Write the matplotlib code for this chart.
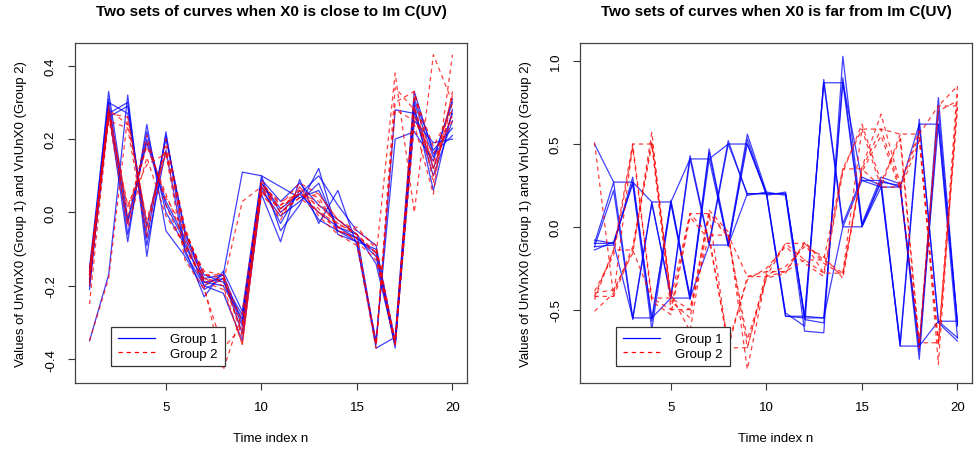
import matplotlib
matplotlib.use("Agg")
import matplotlib.pyplot as plt
from matplotlib.lines import Line2D

plt.rcParams['font.family'] = ['Liberation Sans', 'DejaVu Sans']

t = list(range(1, 21))

# left panel: X0 close to Im C(UV)
close_g1 = [
    [-0.17, 0.29, -0.03, 0.20, 0.03, -0.07, -0.18, -0.17, -0.30, 0.08, 0.01, 0.05, 0.00, -0.04, -0.07, -0.12, -0.36, 0.28, 0.12, 0.27],
    [-0.15, 0.31, -0.06, 0.22, 0.00, -0.09, -0.19, -0.18, -0.33, 0.07, -0.03, 0.06, -0.02, -0.05, -0.08, -0.10, -0.35, 0.30, 0.15, 0.30],
    [-0.20, 0.27, 0.30, -0.07, 0.21, -0.06, -0.17, -0.19, -0.28, 0.09, 0.03, 0.08, 0.02, -0.02, -0.06, -0.36, 0.28, 0.27, 0.10, 0.25],
    [-0.35, -0.17, 0.32, -0.12, 0.22, -0.10, -0.23, -0.16, -0.27, 0.10, -0.05, 0.02, 0.12, -0.06, -0.08, -0.37, -0.34, 0.33, 0.16, 0.21],
    [-0.18, 0.33, -0.02, 0.19, 0.02, -0.08, -0.20, -0.17, 0.11, 0.10, 0.07, 0.04, 0.06, -0.04, -0.06, -0.14, -0.36, 0.25, 0.19, 0.20],
    [-0.19, 0.26, 0.29, -0.09, 0.17, -0.11, -0.20, -0.22, -0.35, 0.05, -0.08, 0.09, -0.03, 0.06, -0.09, -0.35, 0.20, 0.22, 0.14, 0.31],
    [-0.16, 0.28, -0.08, 0.24, -0.05, -0.12, -0.21, -0.18, -0.31, 0.06, -0.01, 0.03, 0.08, -0.05, -0.07, -0.11, -0.37, 0.29, 0.06, 0.28],
    [-0.21, 0.30, 0.27, -0.04, 0.20, -0.05, -0.19, -0.20, -0.29, 0.08, 0.00, 0.05, 0.10, 0.02, -0.05, -0.09, -0.36, 0.31, 0.17, 0.23],
]
close_g2 = [
    [-0.17, 0.27, 0.26, -0.05, 0.18, -0.05, -0.17, -0.18, -0.33, 0.07, 0.01, 0.06, 0.00, -0.03, -0.06, -0.11, -0.36, 0.29, 0.12, 0.27],
    [-0.19, 0.28, 0.01, 0.18, 0.05, -0.08, -0.19, -0.21, -0.36, 0.06, -0.02, 0.07, 0.01, -0.05, -0.07, -0.36, 0.34, 0.28, 0.10, 0.30],
    [-0.35, -0.18, 0.26, -0.03, 0.17, -0.06, -0.16, -0.17, -0.30, 0.08, 0.02, 0.05, 0.03, -0.04, -0.08, -0.13, -0.36, 0.26, 0.14, 0.25],
    [-0.25, 0.26, -0.04, 0.15, -0.01, -0.09, -0.20, -0.43, -0.27, 0.09, 0.00, 0.04, 0.05, -0.02, -0.05, -0.09, -0.35, 0.32, 0.18, 0.28],
    [-0.18, 0.29, -0.01, 0.21, 0.02, -0.10, -0.18, -0.19, 0.03, 0.07, 0.03, 0.05, 0.02, -0.03, -0.06, -0.12, 0.38, 0.00, 0.43, 0.30],
    [-0.16, 0.25, 0.23, -0.07, 0.20, -0.04, -0.19, -0.18, -0.34, 0.05, -0.01, 0.07, -0.01, -0.06, -0.09, -0.37, 0.30, 0.33, 0.08, 0.33],
    [-0.20, 0.27, 0.02, 0.13, 0.16, -0.13, -0.21, -0.37, -0.31, 0.06, 0.01, 0.06, 0.04, -0.04, -0.04, -0.10, -0.36, 0.24, 0.05, 0.43],
    [-0.17, 0.28, 0.24, -0.02, 0.16, -0.07, -0.18, -0.20, -0.36, 0.07, 0.00, 0.04, 0.00, -0.05, -0.07, -0.36, 0.28, 0.25, 0.16, 0.26],
    [-0.15, 0.27, -0.03, 0.19, 0.04, -0.05, -0.17, -0.17, -0.32, 0.08, 0.02, 0.08, 0.05, -0.02, -0.06, -0.11, -0.35, 0.33, 0.12, 0.32],
]

# right panel: X0 far from Im C(UV)
far_g1 = [
    [-0.10, 0.27, -0.55, 0.15, -0.43, 0.41, -0.11, 0.50, 0.20, 0.20, -0.54, -0.55, 0.87, 0.00, 0.28, 0.24, -0.72, 0.62, -0.57, -0.67],
    [-0.12, 0.22, -0.56, 0.14, -0.42, 0.43, -0.10, 0.52, 0.19, 0.21, -0.52, -0.60, 0.89, 0.02, 0.30, 0.25, -0.70, 0.65, -0.58, -0.69],
    [-0.08, -0.10, 0.27, -0.55, 0.15, -0.43, 0.41, -0.11, 0.50, 0.20, 0.20, -0.54, -0.55, 0.87, 0.00, 0.28, 0.24, -0.72, 0.62, -0.57],
    [-0.12, -0.11, 0.30, -0.57, 0.16, -0.42, 0.47, -0.10, 0.56, 0.21, 0.19, -0.63, -0.64, 1.03, 0.02, 0.30, 0.26, -0.75, 0.78, -0.59],
    [-0.14, -0.09, 0.26, -0.62, 0.14, -0.44, 0.45, -0.12, 0.53, 0.19, 0.21, -0.56, -0.58, 0.90, 0.01, 0.27, 0.25, -0.80, 0.70, -0.60],
    [-0.10, -0.10, -0.55, -0.55, -0.43, -0.43, -0.11, -0.11, 0.20, 0.20, -0.54, -0.54, 0.87, 0.87, 0.28, 0.28, -0.72, -0.72, -0.57, -0.57],
    [0.50, 0.27, 0.27, 0.15, 0.15, 0.41, 0.41, 0.50, 0.50, 0.20, 0.20, -0.55, -0.55, 0.00, 0.00, 0.24, 0.24, 0.62, 0.62, -0.67],
]
far_g2 = [
    [-0.42, -0.14, 0.50, -0.43, -0.50, 0.08, -0.05, -0.73, -0.30, -0.27, -0.10, -0.20, -0.28, 0.35, 0.59, 0.24, 0.56, -0.70, 0.73, 0.85],
    [-0.39, -0.17, 0.48, -0.45, -0.53, 0.06, -0.08, -0.70, -0.32, -0.25, -0.12, -0.22, -0.30, 0.33, 0.62, 0.27, 0.53, -0.73, 0.70, 0.76],
    [0.51, -0.42, -0.14, 0.50, -0.43, -0.50, 0.08, -0.05, -0.73, -0.30, -0.27, -0.10, -0.20, -0.28, 0.35, 0.59, 0.24, 0.56, -0.70, 0.73],
    [-0.40, -0.38, -0.16, 0.57, -0.45, -0.55, 0.10, -0.03, -0.86, -0.29, -0.24, -0.12, -0.18, -0.31, 0.36, 0.68, 0.26, 0.58, -0.83, 0.80],
    [-0.51, -0.40, -0.12, 0.52, -0.41, -0.63, 0.07, -0.06, -0.68, -0.31, -0.28, -0.09, -0.22, -0.29, 0.33, 0.55, 0.22, 0.52, -0.72, 0.72],
    [-0.42, -0.42, 0.50, 0.50, -0.50, -0.50, -0.05, -0.05, -0.30, -0.30, -0.10, -0.10, -0.28, -0.28, 0.59, 0.59, 0.56, 0.56, 0.73, 0.73],
    [-0.44, -0.14, -0.14, -0.43, -0.43, 0.08, 0.08, -0.73, -0.73, -0.27, -0.27, -0.20, -0.20, 0.35, 0.35, 0.24, 0.24, -0.70, -0.70, 0.85],
]

panels = [
    ("Two sets of curves when X0 is close to Im C(UV)", close_g1, close_g2,
     (-0.465, 0.462), [-0.4, -0.2, 0.0, 0.2, 0.4]),
    ("Two sets of curves when X0 is far from Im C(UV)", far_g1, far_g2,
     (-0.943, 1.11), [-0.5, 0.0, 0.5, 1.0]),
]
ylab = "Values of UnVnX0 (Group 1) and VnUnX0 (Group 2)"

fig = plt.figure(figsize=(9.78, 4.6), dpi=100)
lefts = [75 / 978, 580 / 978]

for k, (title, g1, g2, ylim, yticks) in enumerate(panels):
    ax = fig.add_axes([lefts[k], 76 / 460, 392 / 978, 340 / 460])
    for c in g1:
        ax.plot(t, c, color='#0000FF', lw=0.9, alpha=0.75)
    for c in g2:
        ax.plot(t, c, color='#FF0000', lw=0.9, alpha=0.75, ls=(0, (3.5, 3)))
    ax.set_xlim(0.24, 20.76)
    ax.set_ylim(*ylim)
    ax.set_xticks([5, 10, 15, 20])
    ax.set_yticks(yticks)
    ax.set_yticklabels([f"{v:.1f}" for v in yticks], rotation=90, va='center')
    ax.tick_params(direction='out', length=5, width=0.8, labelsize=9.5, colors='#333333',
                   labelcolor='black', pad=8)
    for s in ax.spines.values():
        s.set_color('#444444')
        s.set_linewidth(0.9)
    ax.set_title(title, fontsize=11, fontweight='bold', pad=20)
    ax.set_xlabel("Time index n", fontsize=9.5, labelpad=14)
    ax.set_ylabel(ylab, fontsize=9.5, labelpad=13)
    handles = [Line2D([0], [0], color='#0000FF', lw=0.9),
               Line2D([0], [0], color='#FF0000', lw=0.9, ls=(0, (3.5, 3)))]
    leg = ax.legend(handles, ["Group 1", "Group 2"], loc='lower left',
                    bbox_to_anchor=(0.075, 0.03), fontsize=9.5, fancybox=False,
                    framealpha=1, edgecolor='#333333', borderpad=0.5,
                    handlelength=2.8, handletextpad=1.2, labelspacing=0.15)
    leg.get_frame().set_linewidth(0.9)

fig.savefig("out.png", dpi=100)
